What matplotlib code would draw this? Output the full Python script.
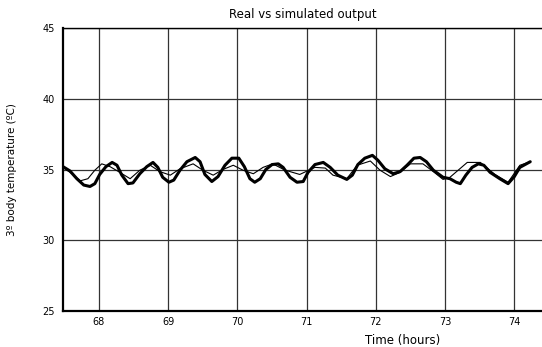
import matplotlib
matplotlib.use("Agg")
import matplotlib.pyplot as plt

# Simulated output (thick line)
sim_t = [67.48, 67.58, 67.68, 67.78, 67.87, 67.94, 68.01, 68.10, 68.19, 68.26,
         68.33, 68.42, 68.49, 68.59, 68.69, 68.78, 68.85, 68.92, 69.01, 69.08,
         69.17, 69.27, 69.39, 69.46, 69.53, 69.63, 69.72, 69.82, 69.92, 70.02,
         70.10, 70.18, 70.25, 70.33, 70.41, 70.50, 70.59, 70.66, 70.76, 70.86,
         70.95, 71.02, 71.12, 71.24, 71.34, 71.45, 71.58, 71.66, 71.74, 71.84,
         71.95, 72.03, 72.13, 72.25, 72.35, 72.45, 72.55, 72.64, 72.73, 72.83,
         72.97, 73.07, 73.16, 73.22, 73.30, 73.39, 73.48, 73.56, 73.65, 73.79,
         73.91, 74.00, 74.08, 74.23]
sim_v = [35.2, 34.9, 34.35, 33.9, 33.8, 34.0, 34.65, 35.2, 35.5, 35.3,
         34.6, 34.0, 34.05, 34.7, 35.2, 35.5, 35.15, 34.45, 34.1, 34.25,
         34.95, 35.55, 35.85, 35.55, 34.65, 34.15, 34.5, 35.3, 35.8, 35.8,
         35.2, 34.35, 34.1, 34.35, 35.0, 35.35, 35.4, 35.15, 34.45, 34.1,
         34.15, 34.8, 35.35, 35.5, 35.15, 34.6, 34.3, 34.6, 35.35, 35.8,
         36.0, 35.65, 35.05, 34.7, 34.85, 35.3, 35.8, 35.85, 35.55, 34.95,
         34.45, 34.35, 34.1, 34.0, 34.6, 35.15, 35.4, 35.3, 34.8, 34.35,
         34.0, 34.5, 35.15, 35.55]

# Real output (thin line)
real_t = [67.48, 67.61, 67.73, 67.84, 67.94, 68.04, 68.16, 68.30, 68.45, 68.59,
          68.74, 68.88, 69.03, 69.17, 69.36, 69.50, 69.65, 69.79, 69.94, 70.08,
          70.23, 70.37, 70.51, 70.69, 70.90, 71.12, 71.27, 71.38, 71.58, 71.73,
          71.92, 72.06, 72.21, 72.35, 72.50, 72.68, 72.83, 72.97, 73.07, 73.32,
          73.51, 73.72, 73.91, 74.08, 74.23]
real_v = [35.15, 34.7, 34.2, 34.35, 34.95, 35.4, 35.2, 34.8, 34.35, 34.95,
          35.3, 34.85, 34.6, 35.05, 35.4, 34.95, 34.6, 35.0, 35.3, 34.95,
          34.7, 35.15, 35.4, 34.95, 34.65, 35.15, 35.1, 34.6, 34.35, 35.3,
          35.6, 34.95, 34.5, 34.8, 35.4, 35.4, 34.85, 34.3, 34.45, 35.5,
          35.5, 34.65, 34.1, 35.3, 35.55]

x_ticks = [68, 69, 70, 71, 72, 73, 74]
y_ticks = [25, 30, 35, 40, 45]

fig = plt.figure(figsize=(5.42, 3.47), dpi=100)
ax = fig.add_axes([63/542, 1-311/347, 1-63/542, (311-28)/347])

ax.plot(real_t, real_v, color="black", lw=0.8, zorder=3)
ax.plot(sim_t, sim_v, color="black", lw=2.2, zorder=4,
        solid_joinstyle="round", solid_capstyle="round")

ax.set_xlim(67.48, 74.40)
ax.set_ylim(25, 45)
ax.set_xticks(x_ticks)
ax.set_yticks(y_ticks)
ax.tick_params(length=0, labelsize=7)
ax.tick_params(axis="x", pad=4)
ax.tick_params(axis="y", pad=6)
ax.grid(True, color="#333333", lw=0.9)
ax.set_axisbelow(True)
for side in ["left", "bottom"]:
    ax.spines[side].set_linewidth(1.6)
ax.spines["top"].set_linewidth(1.0)
ax.spines["right"].set_visible(False)

ax.set_title("Real vs simulated output", fontsize=8.5, pad=7)
ax.set_xlabel("Time (hours)", fontsize=8.5)
ax.xaxis.set_label_coords(0.708, -0.08)
ax.set_ylabel("3º body temperature (ºC)", fontsize=7.5)
ax.yaxis.set_label_coords(-0.095, 0.5)

fig.savefig("out.png", dpi=100)
